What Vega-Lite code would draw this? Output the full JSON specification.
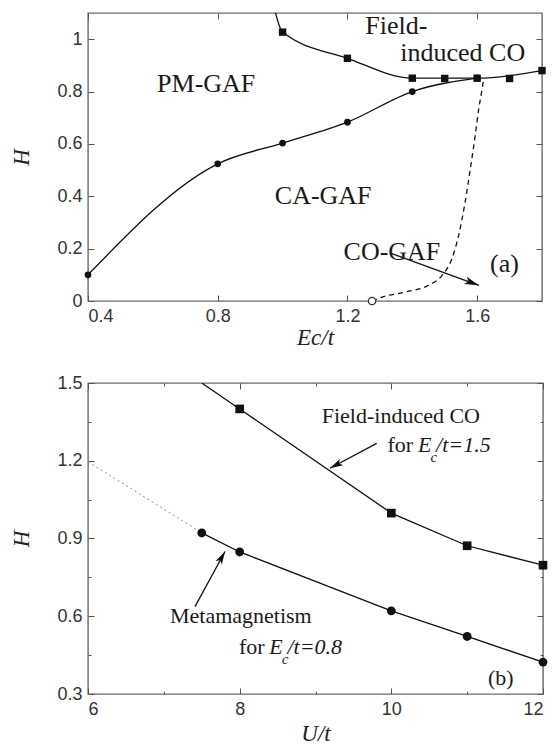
{
  "$schema": "https://vega.github.io/schema/vega-lite/v6.json",
  "padding": {"left": 10, "top": 11, "right": 10, "bottom": 0},
  "spacing": 23,
  "background": "white",
  "config": {
    "view": {"stroke": "#6a6a6a", "strokeWidth": 1.4},
    "axis": {
      "domain": false,
      "grid": false,
      "labelFont": "Liberation Sans",
      "labelFontSize": 18,
      "labelColor": "#333",
      "labelPadding": 12,
      "tickColor": "#555",
      "tickWidth": 1,
      "tickSize": -6,
      "titleFont": "Liberation Serif",
      "titleFontStyle": "italic",
      "titleFontWeight": "normal",
      "titleFontSize": 23,
      "titleColor": "#222"
    }
  },
  "datasets": {
    "a_upper_line": [
      {"x": 0.972, "y": 1.13}, {"x": 1.0, "y": 1.027}, {"x": 1.2, "y": 0.927},
      {"x": 1.4, "y": 0.851}, {"x": 1.6, "y": 0.851}, {"x": 1.8, "y": 0.88}
    ],
    "a_upper_pts": [
      {"x": 1.0, "y": 1.027}, {"x": 1.2, "y": 0.927}, {"x": 1.4, "y": 0.851},
      {"x": 1.5, "y": 0.85}, {"x": 1.6, "y": 0.851}, {"x": 1.7, "y": 0.85}, {"x": 1.8, "y": 0.88}
    ],
    "a_lower": [
      {"x": 0.4, "y": 0.1}, {"x": 0.8, "y": 0.524}, {"x": 1.0, "y": 0.603},
      {"x": 1.2, "y": 0.683}, {"x": 1.4, "y": 0.8}, {"x": 1.6, "y": 0.851}
    ],
    "a_dashed": [
      {"x": 1.276, "y": 0.0}, {"x": 1.307, "y": 0.015}, {"x": 1.378, "y": 0.034},
      {"x": 1.45, "y": 0.06}, {"x": 1.492, "y": 0.098}, {"x": 1.522, "y": 0.161},
      {"x": 1.543, "y": 0.251}, {"x": 1.563, "y": 0.378}, {"x": 1.579, "y": 0.505},
      {"x": 1.594, "y": 0.632}, {"x": 1.605, "y": 0.734}, {"x": 1.614, "y": 0.8},
      {"x": 1.62, "y": 0.848}
    ],
    "a_open": [{"x": 1.276, "y": 0.0}],
    "a_arrow": [{"x": 1.337, "y": 0.181, "x2": 1.605, "y2": 0.06}],
    "a_text": [
      {"x": 0.613, "y": 0.798, "label": "PM-GAF"},
      {"x": 0.976, "y": 0.371, "label": "CA-GAF"},
      {"x": 1.255, "y": 1.02, "label": "Field-"},
      {"x": 1.363, "y": 0.915, "label": "induced CO"},
      {"x": 1.188, "y": 0.155, "label": "CO-GAF"},
      {"x": 1.64, "y": 0.111, "label": "(a)"}
    ],
    "b_sq_line": [
      {"x": 7.5, "y": 1.5}, {"x": 8, "y": 1.4}, {"x": 10, "y": 0.998},
      {"x": 11, "y": 0.872}, {"x": 12, "y": 0.797}
    ],
    "b_sq_pts": [
      {"x": 8, "y": 1.4}, {"x": 10, "y": 0.998}, {"x": 11, "y": 0.872}, {"x": 12, "y": 0.797}
    ],
    "b_ci": [
      {"x": 7.5, "y": 0.922}, {"x": 8, "y": 0.848}, {"x": 10, "y": 0.621},
      {"x": 11, "y": 0.522}, {"x": 12, "y": 0.423}
    ],
    "b_dot": [{"x": 6, "y": 1.196}, {"x": 7.5, "y": 0.922}],
    "b_arrow_co": [{"x": 9.807, "y": 1.267, "x2": 9.191, "y2": 1.171}],
    "b_arrow_mm": [{"x": 7.411, "y": 0.637, "x2": 7.807, "y2": 0.85}],
    "b_text_roman": [
      {"x": 9.082, "y": 1.344, "label": "Field-induced CO"},
      {"x": 9.95, "y": 1.235, "label": "for"},
      {"x": 7.081, "y": 0.573, "label": "Metamagnetism"},
      {"x": 7.99, "y": 0.454, "label": "for"},
      {"x": 11.275, "y": 0.335, "label": "(b)"}
    ],
    "b_text_italic": [
      {"x": 10.35, "y": 1.235, "label": "E"},
      {"x": 10.59, "y": 1.235, "label": "/t=1.5"},
      {"x": 8.39, "y": 0.454, "label": "E"},
      {"x": 8.63, "y": 0.454, "label": "/t=0.8"}
    ],
    "b_text_sub": [
      {"x": 10.515, "y": 1.196, "label": "c"},
      {"x": 8.555, "y": 0.415, "label": "c"}
    ]
  },
  "vconcat": [
    {
      "width": 454,
      "height": 288,
      "resolve": {"axis": {"x": "independent", "y": "independent"}},
      "encoding": {
        "x": {"field": "x", "type": "quantitative", "scale": {"domain": [0.4, 1.8], "nice": false, "zero": false}, "axis": null},
        "y": {"field": "y", "type": "quantitative", "scale": {"domain": [0, 1.1], "nice": false, "zero": false}, "axis": null}
      },
      "layer": [
        {
          "data": {"name": "a_upper_line"},
          "mark": {"type": "line", "interpolate": "monotone", "clip": true, "color": "#111", "strokeWidth": 1.3},
          "encoding": {
            "x": {"field": "x", "type": "quantitative", "scale": {"domain": [0.4, 1.8], "nice": false, "zero": false},
                  "axis": {"orient": "bottom", "values": [0.4, 0.8, 1.2, 1.6], "format": ".1f", "title": "Ec/t", "titlePadding": 1}},
            "y": {"field": "y", "type": "quantitative", "scale": {"domain": [0, 1.1], "nice": false, "zero": false},
                  "axis": {"orient": "left", "values": [0, 0.2, 0.4, 0.6, 0.8, 1], "format": ".1~f", "title": "H", "titlePadding": 23}}
          }
        },
        {
          "data": {"name": "a_upper_pts"},
          "mark": {"type": "point", "shape": "square", "filled": true, "color": "#111", "size": 55, "opacity": 1},
          "encoding": {
            "x": {"field": "x", "type": "quantitative", "scale": {"domain": [0.4, 1.8], "nice": false, "zero": false},
                  "axis": {"orient": "top", "values": [0.4, 0.8, 1.2, 1.6], "labels": false, "title": null}},
            "y": {"field": "y", "type": "quantitative", "scale": {"domain": [0, 1.1], "nice": false, "zero": false},
                  "axis": {"orient": "right", "values": [0, 0.2, 0.4, 0.6, 0.8, 1], "labels": false, "title": null}}
          }
        },
        {
          "data": {"name": "a_lower"},
          "mark": {"type": "line", "interpolate": "monotone", "color": "#111", "strokeWidth": 1.3}
        },
        {
          "data": {"name": "a_lower"},
          "mark": {"type": "point", "shape": "circle", "filled": true, "color": "#111", "size": 45, "opacity": 1}
        },
        {
          "data": {"name": "a_dashed"},
          "mark": {"type": "line", "interpolate": "monotone", "color": "#111", "strokeWidth": 1.3, "strokeDash": [5, 4]}
        },
        {
          "data": {"name": "a_open"},
          "mark": {"type": "point", "shape": "circle", "filled": false, "color": "#333", "fill": "white", "size": 55, "strokeWidth": 1.2, "opacity": 1}
        },
        {
          "data": {"name": "a_arrow"},
          "mark": {"type": "rule", "color": "#111", "strokeWidth": 1.3},
          "encoding": {"x2": {"field": "x2"}, "y2": {"field": "y2"}}
        },
        {
          "data": {"name": "a_arrow"},
          "mark": {"type": "point", "shape": "M0,0L-2,-0.55L-1.55,0L-2,0.55Z", "filled": true, "color": "#111", "size": 200, "angle": 20, "opacity": 1},
          "encoding": {
            "x": {"field": "x2", "type": "quantitative", "scale": {"domain": [0.4, 1.8], "nice": false, "zero": false}, "axis": null},
            "y": {"field": "y2", "type": "quantitative", "scale": {"domain": [0, 1.1], "nice": false, "zero": false}, "axis": null}
          }
        },
        {
          "data": {"name": "a_text"},
          "mark": {"type": "text", "font": "Liberation Serif", "fontSize": 26, "align": "left", "baseline": "alphabetic", "color": "#1a1a1a"},
          "encoding": {"text": {"field": "label"}}
        }
      ]
    },
    {
      "width": 455,
      "height": 311,
      "resolve": {"axis": {"x": "independent", "y": "independent"}},
      "encoding": {
        "x": {"field": "x", "type": "quantitative", "scale": {"domain": [6, 12], "nice": false, "zero": false}, "axis": null},
        "y": {"field": "y", "type": "quantitative", "scale": {"domain": [0.3, 1.5], "nice": false, "zero": false}, "axis": null}
      },
      "layer": [
        {
          "data": {"name": "b_sq_line"},
          "mark": {"type": "line", "clip": true, "color": "#111", "strokeWidth": 1.3},
          "encoding": {
            "x": {"field": "x", "type": "quantitative", "scale": {"domain": [6, 12], "nice": false, "zero": false},
                  "axis": {"orient": "bottom", "values": [6, 7, 8, 9, 10, 11, 12], "title": "U/t", "titlePadding": 4,
                           "labelExpr": "datum.value % 2 == 0 ? datum.label : ''",
                           "tickSize": {"condition": {"test": "datum.value % 2 == 0", "value": -6}, "value": -3}}},
            "y": {"field": "y", "type": "quantitative", "scale": {"domain": [0.3, 1.5], "nice": false, "zero": false},
                  "axis": {"orient": "left", "values": [0.3, 0.45, 0.6, 0.75, 0.9, 1.05, 1.2, 1.35, 1.5], "format": ".1f", "title": "H", "titlePadding": 23,
                           "labelExpr": "abs(round(datum.value / 0.3) - datum.value / 0.3) < 0.01 ? datum.label : ''",
                           "tickSize": {"condition": {"test": "abs(round(datum.value / 0.3) - datum.value / 0.3) < 0.01", "value": -6}, "value": -3}}}
          }
        },
        {
          "data": {"name": "b_sq_pts"},
          "mark": {"type": "point", "shape": "square", "filled": true, "color": "#111", "size": 75, "opacity": 1},
          "encoding": {
            "x": {"field": "x", "type": "quantitative", "scale": {"domain": [6, 12], "nice": false, "zero": false},
                  "axis": {"orient": "top", "values": [6, 7, 8, 9, 10, 11, 12], "labels": false, "title": null,
                           "tickSize": {"condition": {"test": "datum.value % 2 == 0", "value": -6}, "value": -3}}},
            "y": {"field": "y", "type": "quantitative", "scale": {"domain": [0.3, 1.5], "nice": false, "zero": false},
                  "axis": {"orient": "right", "values": [0.3, 0.45, 0.6, 0.75, 0.9, 1.05, 1.2, 1.35, 1.5], "labels": false, "title": null,
                           "tickSize": {"condition": {"test": "abs(round(datum.value / 0.3) - datum.value / 0.3) < 0.01", "value": -6}, "value": -3}}}
          }
        },
        {
          "data": {"name": "b_dot"},
          "mark": {"type": "line", "color": "#888", "strokeWidth": 1, "strokeDash": [2, 3]}
        },
        {
          "data": {"name": "b_ci"},
          "mark": {"type": "line", "color": "#111", "strokeWidth": 1.3}
        },
        {
          "data": {"name": "b_ci"},
          "mark": {"type": "point", "shape": "circle", "filled": true, "color": "#111", "size": 78, "opacity": 1}
        },
        {
          "data": {"name": "b_arrow_co"},
          "mark": {"type": "rule", "color": "#111", "strokeWidth": 1.3},
          "encoding": {"x2": {"field": "x2"}, "y2": {"field": "y2"}}
        },
        {
          "data": {"name": "b_arrow_co"},
          "mark": {"type": "point", "shape": "M0,0L-2,-0.55L-1.55,0L-2,0.55Z", "filled": true, "color": "#111", "size": 170, "angle": 152, "opacity": 1},
          "encoding": {
            "x": {"field": "x2", "type": "quantitative", "scale": {"domain": [6, 12], "nice": false, "zero": false}, "axis": null},
            "y": {"field": "y2", "type": "quantitative", "scale": {"domain": [0.3, 1.5], "nice": false, "zero": false}, "axis": null}
          }
        },
        {
          "data": {"name": "b_arrow_mm"},
          "mark": {"type": "rule", "color": "#111", "strokeWidth": 1.3},
          "encoding": {"x2": {"field": "x2"}, "y2": {"field": "y2"}}
        },
        {
          "data": {"name": "b_arrow_mm"},
          "mark": {"type": "point", "shape": "M0,0L-2,-0.55L-1.55,0L-2,0.55Z", "filled": true, "color": "#111", "size": 170, "angle": 299, "opacity": 1},
          "encoding": {
            "x": {"field": "x2", "type": "quantitative", "scale": {"domain": [6, 12], "nice": false, "zero": false}, "axis": null},
            "y": {"field": "y2", "type": "quantitative", "scale": {"domain": [0.3, 1.5], "nice": false, "zero": false}, "axis": null}
          }
        },
        {
          "data": {"name": "b_text_roman"},
          "mark": {"type": "text", "font": "Liberation Serif", "fontSize": 22, "align": "left", "baseline": "alphabetic", "color": "#1a1a1a"},
          "encoding": {"text": {"field": "label"}}
        },
        {
          "data": {"name": "b_text_italic"},
          "mark": {"type": "text", "font": "Liberation Serif", "fontStyle": "italic", "fontSize": 22, "align": "left", "baseline": "alphabetic", "color": "#1a1a1a"},
          "encoding": {"text": {"field": "label"}}
        },
        {
          "data": {"name": "b_text_sub"},
          "mark": {"type": "text", "font": "Liberation Serif", "fontStyle": "italic", "fontSize": 15, "align": "left", "baseline": "alphabetic", "color": "#1a1a1a"},
          "encoding": {"text": {"field": "label"}}
        }
      ]
    }
  ]
}
